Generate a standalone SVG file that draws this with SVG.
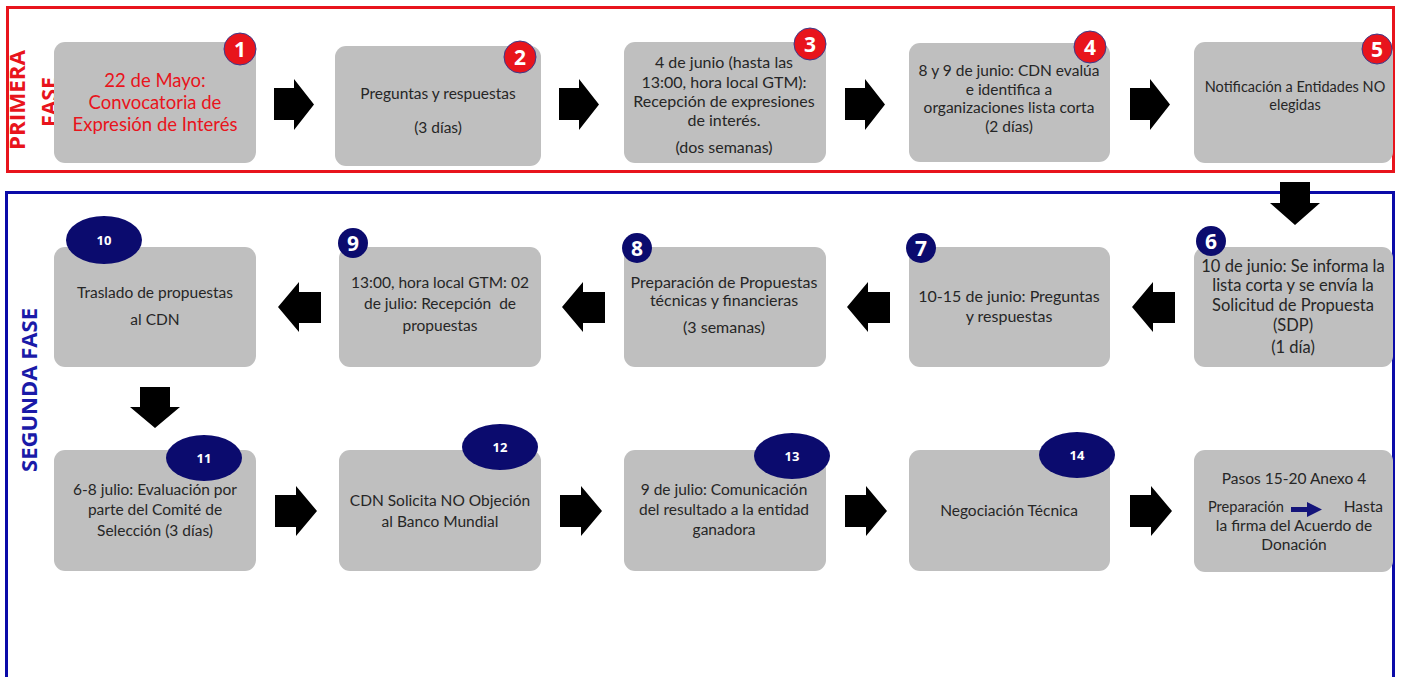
<svg xmlns="http://www.w3.org/2000/svg" width="1402" height="677" viewBox="0 0 1402 677">
<defs>
<style>
.box{fill:#bfbfbf;}
.t{font-family:Lato,"Liberation Sans",sans-serif;font-size:15.5px;fill:#262626;text-anchor:middle;}
.red{fill:#e8141c;font-size:18.5px;}
.rb{fill:#e8141c;stroke:#3b3b8c;stroke-width:1;}
.nb{fill:#0b0b6e;}
.bn{font-family:"Open Sans","Liberation Sans",sans-serif;font-weight:bold;fill:#ffffff;text-anchor:middle;font-size:21px;}
.en{font-family:"Open Sans","Liberation Sans",sans-serif;font-weight:bold;fill:#ffffff;text-anchor:middle;font-size:13px;}
.arr{fill:#000000;}
.ph{font-family:"Open Sans","Liberation Sans",sans-serif;font-weight:bold;font-size:21px;text-anchor:middle;}
</style>
</defs>
<rect width="1402" height="677" fill="#ffffff"/>
<g id="phase1">
<rect x="7.5" y="7.5" width="1386" height="164" fill="none" stroke="#e8141c" stroke-width="3"/>
<text class="ph" fill="#e8141c" transform="translate(25,100) rotate(-90)" textLength="100" lengthAdjust="spacingAndGlyphs">PRIMERA</text>
<text class="ph" fill="#e8141c" transform="translate(57,102) rotate(-90)" textLength="50" lengthAdjust="spacingAndGlyphs">FASE</text>
</g>
<g id="phase2">
<rect x="6.5" y="192.5" width="1387" height="500" fill="none" stroke="#0a0aa8" stroke-width="3"/>
<text class="ph" fill="#1a1aa8" transform="translate(37,390) rotate(-90)" textLength="164" lengthAdjust="spacingAndGlyphs">SEGUNDA FASE</text>
</g>
<g id="connectors">
<path class="arr" d="M274,88 H294 V79 L314,104.5 L294,130 V120 H274 Z"/>
<path class="arr" d="M559,88 H579 V79 L599,104.5 L579,130 V120 H559 Z"/>
<path class="arr" d="M845,88 H865 V79 L885,104.5 L865,130 V120 H845 Z"/>
<path class="arr" d="M1130,88 H1150 V79 L1170,104.5 L1150,130 V120 H1130 Z"/>
<path class="arr" d="M1280,182 H1310 V203 H1320 L1295,225 L1270,203 H1280 Z"/>
<path class="arr" d="M1132,307 L1153,282 V292 H1175 V323 H1153 V332 Z"/>
<path class="arr" d="M847,307 L868,282 V292 H890 V323 H868 V332 Z"/>
<path class="arr" d="M562,307 L583,282 V292 H605 V323 H583 V332 Z"/>
<path class="arr" d="M278,307 L299,282 V292 H321 V323 H299 V332 Z"/>
<path class="arr" d="M140,387 H170 V407 H180 L155,428 L130,407 H140 Z"/>
<path class="arr" d="M275,495 H296 V486 L317,511 L296,536 V527 H275 Z"/>
<path class="arr" d="M560,495 H581 V486 L602,511 L581,536 V527 H560 Z"/>
<path class="arr" d="M845,495 H866 V486 L887,511 L866,536 V527 H845 Z"/>
<path class="arr" d="M1130,495 H1151 V486 L1172,511 L1151,536 V527 H1130 Z"/>
</g>
<g id="n1">
<rect class="box" x="54" y="42" width="202" height="121" rx="11"/>
<text class="t red" x="155" y="87">22 de Mayo:</text>
<text class="t red" x="155" y="109">Convocatoria de</text>
<text class="t red" x="155" y="131">Expresión de Interés</text>
<circle class="rb" cx="240" cy="49" r="16"/>
<text class="bn" x="240" y="57">1</text>
</g>
<g id="n2">
<rect class="box" x="335" y="46" width="206" height="120" rx="11"/>
<text class="t" x="438" y="99">Preguntas y respuestas</text>
<text class="t" x="438" y="133">(3 días)</text>
<circle class="rb" cx="520" cy="57" r="16"/>
<text class="bn" x="520" y="65">2</text>
</g>
<g id="n3">
<rect class="box" x="624" y="42" width="202" height="121" rx="11"/>
<text class="t" x="724" y="68" style="font-size:16px">4 de junio (hasta las</text>
<text class="t" x="724" y="88" style="font-size:16px">13:00, hora local GTM):</text>
<text class="t" x="724" y="107" style="font-size:16px">Recepción de expresiones</text>
<text class="t" x="724" y="126" style="font-size:16px">de interés.</text>
<text class="t" x="724" y="153" style="font-size:16px">(dos semanas)</text>
<circle class="rb" cx="810" cy="44" r="16"/>
<text class="bn" x="810" y="52">3</text>
</g>
<g id="n4">
<rect class="box" x="909" y="43" width="201" height="119" rx="11"/>
<text class="t" x="1009" y="76">8 y 9 de junio: CDN evalúa</text>
<text class="t" x="1009" y="95">e identifica a</text>
<text class="t" x="1009" y="113">organizaciones lista corta</text>
<text class="t" x="1009" y="132">(2 días)</text>
<circle class="rb" cx="1090" cy="47" r="16"/>
<text class="bn" x="1090" y="55">4</text>
</g>
<g id="n5">
<rect class="box" x="1194" y="42" width="199" height="121" rx="11"/>
<text class="t" x="1295" y="92" style="font-size:14.5px">Notificación a Entidades NO</text>
<text class="t" x="1295" y="110" style="font-size:14.5px">elegidas</text>
<circle class="rb" cx="1377" cy="49" r="15"/>
<text class="bn" x="1377" y="57">5</text>
</g>
<g id="n6">
<rect class="box" x="1194" y="247" width="199" height="120" rx="11"/>
<text class="t" x="1293" y="272" style="font-size:16.5px">10 de junio: Se informa la</text>
<text class="t" x="1293" y="291" style="font-size:16.5px">lista corta y se envía la</text>
<text class="t" x="1293" y="311" style="font-size:16.5px">Solicitud de Propuesta</text>
<text class="t" x="1293" y="331" style="font-size:16.5px">(SDP)</text>
<text class="t" x="1293" y="353" style="font-size:16.5px">(1 día)</text>
<circle class="nb" cx="1211" cy="241" r="15"/>
<text class="bn" x="1211" y="249">6</text>
</g>
<g id="n7">
<rect class="box" x="909" y="247" width="201" height="120" rx="11"/>
<text class="t" x="1009" y="302" style="font-size:16px">10-15 de junio: Preguntas</text>
<text class="t" x="1009" y="322" style="font-size:16px">y respuestas</text>
<circle class="nb" cx="921" cy="248" r="15"/>
<text class="bn" x="921" y="256">7</text>
</g>
<g id="n8">
<rect class="box" x="624" y="247" width="202" height="120" rx="11"/>
<text class="t" x="724" y="288" style="font-size:16px">Preparación de Propuestas</text>
<text class="t" x="724" y="306" style="font-size:16px">técnicas y financieras</text>
<text class="t" x="724" y="333" style="font-size:16px">(3 semanas)</text>
<circle class="nb" cx="637" cy="248" r="15"/>
<text class="bn" x="637" y="256">8</text>
</g>
<g id="n9">
<rect class="box" x="339" y="247" width="202" height="120" rx="11"/>
<text class="t" x="440" y="288">13:00, hora local GTM: 02</text>
<text class="t" x="440" y="309" xml:space="preserve">de julio: Recepción  de</text>
<text class="t" x="440" y="331">propuestas</text>
<circle class="nb" cx="353" cy="243" r="15"/>
<text class="bn" x="353" y="251">9</text>
</g>
<g id="n10">
<rect class="box" x="54" y="247" width="202" height="120" rx="11"/>
<text class="t" x="155" y="298">Traslado de propuestas</text>
<text class="t" x="155" y="325">al CDN</text>
<ellipse class="nb" cx="104" cy="240" rx="38" ry="24"/>
<text class="en" x="104" y="245">10</text>
</g>
<g id="n11">
<rect class="box" x="54" y="450" width="202" height="121" rx="11"/>
<text class="t" x="155" y="495">6-8 julio: Evaluación por</text>
<text class="t" x="155" y="515">parte del Comité de</text>
<text class="t" x="155" y="536">Selección (3 días)</text>
<ellipse class="nb" cx="204" cy="458" rx="38" ry="23"/>
<text class="en" x="204" y="463">11</text>
</g>
<g id="n12">
<rect class="box" x="339" y="450" width="202" height="121" rx="11"/>
<text class="t" x="440" y="506">CDN Solicita NO Objeción</text>
<text class="t" x="440" y="527">al Banco Mundial</text>
<ellipse class="nb" cx="500" cy="447" rx="38" ry="23"/>
<text class="en" x="500" y="452">12</text>
</g>
<g id="n13">
<rect class="box" x="624" y="450" width="202" height="121" rx="11"/>
<text class="t" x="724" y="495">9 de julio: Comunicación</text>
<text class="t" x="724" y="515">del resultado a la entidad</text>
<text class="t" x="724" y="535">ganadora</text>
<ellipse class="nb" cx="792" cy="456" rx="38" ry="23"/>
<text class="en" x="792" y="461">13</text>
</g>
<g id="n14">
<rect class="box" x="909" y="450" width="201" height="121" rx="11"/>
<text class="t" x="1009" y="516">Negociación Técnica</text>
<ellipse class="nb" cx="1077" cy="455" rx="38" ry="23"/>
<text class="en" x="1077" y="460">14</text>
</g>
<g id="n15">
<rect class="box" x="1194" y="450" width="199" height="122" rx="11"/>
<text class="t" x="1294" y="484">Pasos 15-20 Anexo 4</text>
<text class="t" x="1208" y="512" style="text-anchor:start" textLength="76" lengthAdjust="spacingAndGlyphs">Preparación</text>
<path d="M1291,507 H1307 V502 L1322,509.5 L1307,517 V512 H1291 Z" fill="#14147a"/>
<text class="t" x="1383" y="512" style="text-anchor:end">Hasta</text>
<text class="t" x="1294" y="531">la firma del Acuerdo de</text>
<text class="t" x="1294" y="550">Donación</text>
</g>
</svg>
